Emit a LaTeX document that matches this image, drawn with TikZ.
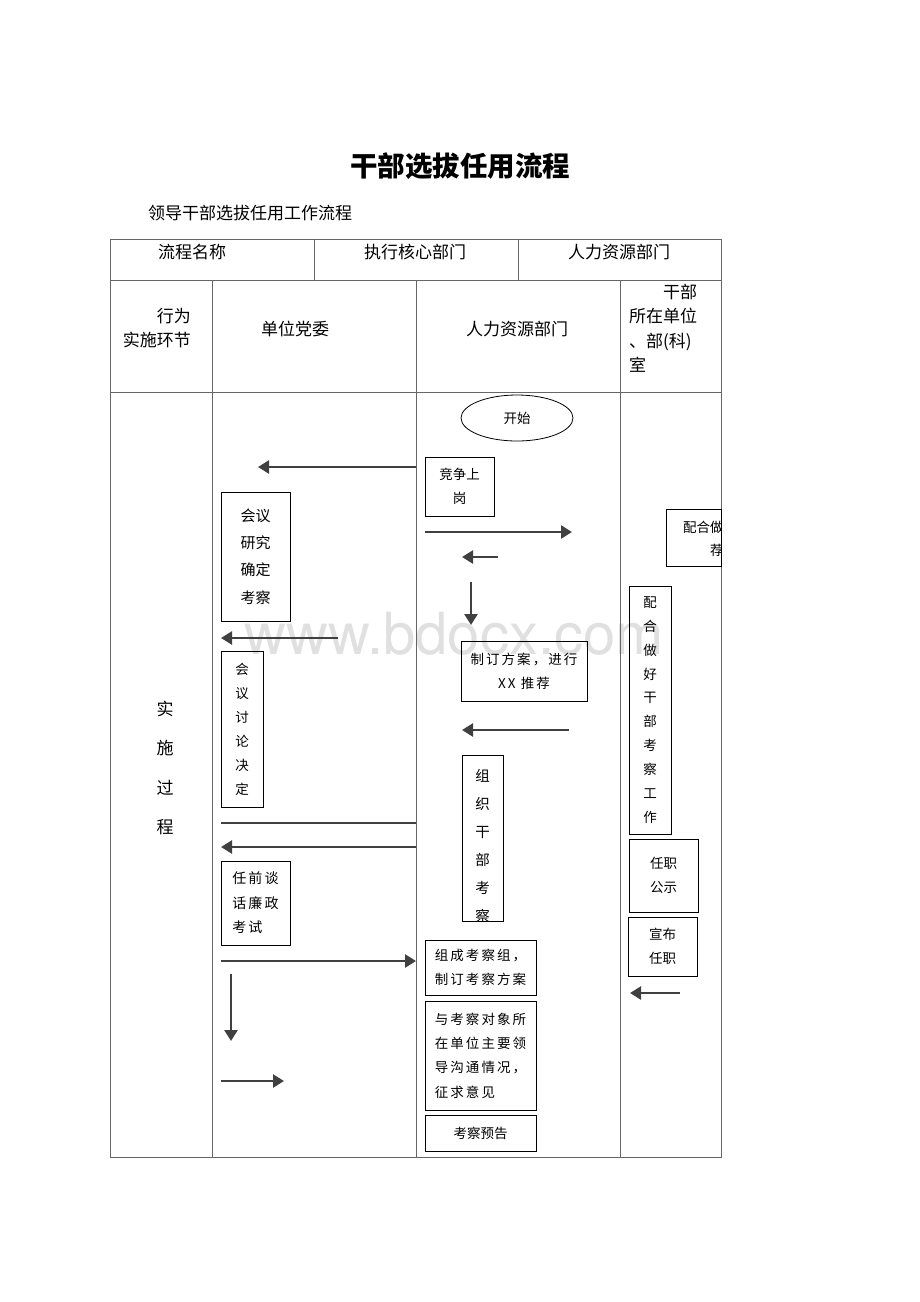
\documentclass[tikz,border=0pt]{standalone}
\usepackage{fontspec}
\newfontfamily\cjk{Noto Sans CJK SC}
\newfontfamily\cjkw[LetterSpace=15]{Noto Sans CJK SC}
\newfontfamily\wmfont{TeX Gyre Heros}
\usetikzlibrary{arrows.meta,shapes.geometric}

\begin{document}
\begin{tikzpicture}
    [x=1pt,y=-1pt,
     tbl/.style={draw=black!60,line width=0.8pt},
     hd/.style={font=\cjk\fontsize{17}{24.5}\selectfont,inner sep=0pt,align=center},
     box/.style={draw,line width=0.8pt,inner sep=0pt,align=center,font=\cjk\fontsize{13.5}{24}\selectfont},
     widebox/.style={box,align=left,font=\cjkw\fontsize{13.5}{24.3}\selectfont},
     flow/.style={draw=black!75,line width=2.5pt,-{Triangle[length=11pt,width=13pt]}},
     flatline/.style={draw=black!75,line width=2.5pt}]
    \useasboundingbox (0,0) rectangle (920,1302);
    % title
    \node (title) at (460,166) [font=\cjk\bfseries\fontsize{27.5}{30}\selectfont] {干部选拔任用流程};
    \node (subtitle) at (148,213) [hd,anchor=west] {领导干部选拔任用工作流程};
    % watermark
    \node (wm) at (454,634) [font=\wmfont\fontsize{58}{60}\selectfont,text=black!12] {www.bdocx.com};
    % table
    \draw [tbl] (110,239) rectangle (721,1157);
    \draw [tbl] (110,280) -- (721,280);
    \draw [tbl] (110,392) -- (721,392);
    \draw [tbl] (314,239) -- (314,280);
    \draw [tbl] (518,239) -- (518,280);
    \foreach \x in {212,416,620}
      \draw [tbl] (\x,280) -- (\x,1157);
    \node (name) at (192,252) [hd] {流程名称};
    \node (core) at (415,252) [hd] {执行核心部门};
    \node (hr) at (619,252) [hd] {人力资源部门};
    \node (step) at (191,328) [hd,anchor=east,align=right] {行为\\实施环节};
    \node (party) at (295,329) [hd] {单位党委};
    \node (hrcol) at (517,329) [hd] {人力资源部门};
    \node (unit) at (629,328.5) [hd,anchor=west,align=left] {\hspace*{2em}干部\\所在单位\\、部(科)\\室};
    \node (proc) at (165,768) [hd,font=\cjk\fontsize{17}{39.3}\selectfont] {实\\施\\过\\程};
    % 单位党委
    \node (yanjiu) at (255.5,556.5) [box,minimum width=69,minimum height=129,font=\cjk\fontsize{15}{27.3}\selectfont] {会议\\研究\\确定\\考察};
    \node (taolun) at (242,729) [box,minimum width=42,minimum height=156] {会\\议\\讨\\论\\决\\定};
    \node (tanhua) at (255.5,903) [widebox,minimum width=69,minimum height=84,font=\cjkw\fontsize{14}{24.5}\selectfont] {任前谈\\话廉政\\考试};
    % 人力资源部门
    \node (start) at (517,418) [ellipse,draw,line width=0.8pt,minimum width=112,minimum height=46,font=\cjk\fontsize{13.5}{15}\selectfont] {开始};
    \node (jingzheng) at (459.5,486.5) [box,minimum width=69,minimum height=59] {竞争上\\岗};
    \node (fangan) at (524,671) [widebox,align=center,minimum width=126,minimum height=60] {制订方案，进行\\XX 推荐};
    \node (zuzhi) at (482.5,838) [box,minimum width=41,minimum height=166] {};
    \begin{scope}
      \clip (462,755) rectangle (503,921);
      \node (zuzhitext) at (482.5,846) [box,draw=none,font=\cjk\fontsize{14.5}{28}\selectfont] {组\\织\\干\\部\\考\\察};
    \end{scope}
    \node (kaochazu) at (480.5,967.5) [widebox,minimum width=111,minimum height=55] {组成考察组，\\制订考察方案};
    \node (goutong) at (480.5,1055.5) [widebox,minimum width=111,minimum height=109] {与考察对象所\\在单位主要领\\导沟通情况，\\征求意见};
    \node (yugao) at (480.5,1133) [box,minimum width=111,minimum height=36] {考察预告};
    % 干部所在单位
    \node (tuijian) at (693.5,537.5) [box,minimum width=55,minimum height=57] {};
    \begin{scope}
      \clip (666,509) rectangle (721,566);
      \node (tuijiantext) at (724,538.5) [box,draw=none,anchor=east,align=right,font=\cjk\fontsize{13.5}{23}\selectfont] {配合做\\荐};
    \end{scope}
    \node (peihe) at (650,710) [box,minimum width=42,minimum height=248,font=\cjk\fontsize{13.5}{23.9}\selectfont] {配\\合\\做\\好\\干\\部\\考\\察\\工\\作};
    \node (gongshi) at (663.5,875.5) [box,minimum width=69,minimum height=73] {任职\\公示};
    \node (xuanbu) at (662.5,946.5) [box,minimum width=69,minimum height=59] {宣布\\任职};
    % arrows
    \coordinate (p1s) at (416,467);   \coordinate (p1e) at (258,467);
    \coordinate (p2s) at (338,638);   \coordinate (p2e) at (221,638);
    \coordinate (p3s) at (221,823);   \coordinate (p3e) at (416,823);
    \coordinate (p4s) at (416,847);   \coordinate (p4e) at (221,847);
    \coordinate (p5s) at (221,961);   \coordinate (p5e) at (416,961);
    \coordinate (p6s) at (231,974);   \coordinate (p6e) at (231,1041);
    \coordinate (p7s) at (221,1081);  \coordinate (p7e) at (284,1081);
    \coordinate (h1s) at (425,532);   \coordinate (h1e) at (572,532);
    \coordinate (h2s) at (498,557);   \coordinate (h2e) at (462,557);
    \coordinate (h3s) at (471,582);   \coordinate (h3e) at (471,625);
    \coordinate (h4s) at (569,730);   \coordinate (h4e) at (462,730);
    \coordinate (u1s) at (680,993);   \coordinate (u1e) at (630,993);
    \draw [flow] (p1s) to (p1e);
    \draw [flow] (p2s) to (p2e);
    \draw [flatline] (p3s) to (p3e);
    \draw [flow] (p4s) to (p4e);
    \draw [flow] (p5s) to (p5e);
    \draw [flow] (p6s) to (p6e);
    \draw [flow] (p7s) to (p7e);
    \draw [flow] (h1s) to (h1e);
    \draw [flow] (h2s) to (h2e);
    \draw [flow] (h3s) to (h3e);
    \draw [flow] (h4s) to (h4e);
    \draw [flow] (u1s) to (u1e);
  \end{tikzpicture}
\end{document}
